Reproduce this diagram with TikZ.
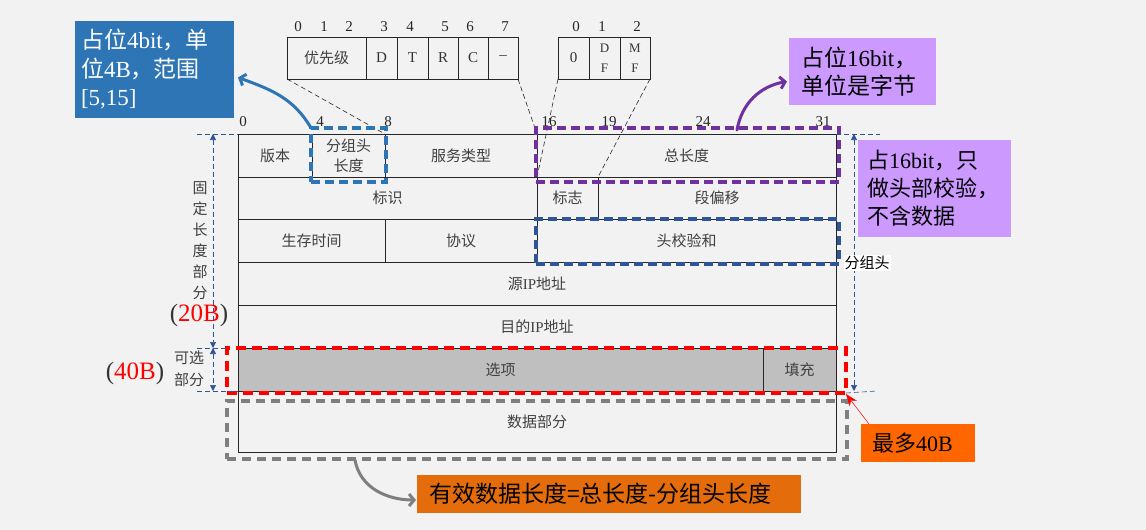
\documentclass[tikz,border=0pt]{standalone}
\usepackage{fontspec}
\setmainfont{Liberation Serif}
\newfontfamily\cjk{Noto Sans CJK SC}
\usetikzlibrary{positioning,arrows.meta,calc}
\definecolor{colFondo}{HTML}{F2F2F2}
\definecolor{colAzulCab}{HTML}{2E75B6}
\definecolor{colAzulOsc}{HTML}{2F5597}
\definecolor{colMorado}{HTML}{7030A0}
\definecolor{colLila}{HTML}{CC99FF}
\definecolor{colNaranja}{HTML}{FF6600}
\definecolor{colNaranjaOsc}{HTML}{E46C0A}
\definecolor{colGrisTxt}{HTML}{404040}
\definecolor{colGrisCelda}{HTML}{BFBFBF}
\definecolor{colGrisMarco}{HTML}{7F7F7F}
\newcommand{\lat}[1]{{\rmfamily #1}}

\begin{document}
\begin{tikzpicture}[
        x=1pt,
        y=1pt,
        >=Stealth,
        celda/.style={draw=black!85, line width=0.9pt, anchor=north west, inner sep=0pt, outer sep=0pt,
            align=center, text=colGrisTxt, font=\cjk\fontsize{15}{20}\selectfont},
        bitnum/.style={inner sep=0pt, text=black!85, font=\fontsize{15}{15}\selectfont},
        bandera/.style={draw=black!85, line width=0.9pt, anchor=north west, inner sep=0pt, outer sep=0pt,
            minimum height=42, align=center, text=black!80, font=\fontsize{15}{20}\selectfont},
        marco/.style={anchor=north west, inner sep=0pt, outer sep=0pt, line width=3.2pt,
            dash pattern=on 9pt off 5pt},
        nota/.style={anchor=north west, inner ysep=0pt, outer sep=0pt, align=left,
            font=\cjk\fontsize{23}{28.5}\selectfont},
        guia/.style={colAzulOsc, line width=0.6pt, dash pattern=on 5pt off 3pt},
        cota/.style={guia, {Triangle[length=6pt,width=6pt]}-{Triangle[length=6pt,width=6pt]}},
        lado/.style={inner sep=0pt, align=center, text=colGrisTxt, font=\cjk\fontsize{15}{21}\selectfont},
        tam/.style={inner sep=0pt, text=black!80, font=\fontsize{25}{25}\selectfont},
        proyeccion/.style={black!85, line width=0.6pt, dash pattern=on 5pt off 3pt},
        flecha/.style={line width=3pt, line cap=round, -{Straight Barb[length=5pt,width=12pt]}}
    ]
        \path[use as bounding box, fill=colFondo] (0,0) rectangle (1146,-530);

        % Desglose de los campos de servicio y de banderas
        \foreach \b/\x in {0/298,1/324,2/349,3/384,4/410,5/445,6/470,7/505}
            \node[bitnum] (tos\b) at (\x,-27) {\b};
        \foreach \b/\x in {0/576,1/602,2/637}
            \node[bitnum] (flg\b) at (\x,-27) {\b};
        \node[bandera, minimum width=79, text=colGrisTxt, font=\cjk\fontsize{15}{17}\selectfont] (prio) at (287,-37) {优先级};
        \node[bandera, minimum width=31] (tosD) at (366,-37) {D};
        \node[bandera, minimum width=31] (tosT) at (397,-37) {T};
        \node[bandera, minimum width=30] (tosR) at (428,-37) {R};
        \node[bandera, minimum width=30] (tosC) at (458,-37) {C};
        \node[bandera, minimum width=30] (tosX) at (488,-37) {\textendash};
        \node[bandera, minimum width=31] (flag0) at (558,-37) {0};
        \node[bandera, minimum width=31, font=\fontsize{13}{20}\selectfont] (flagDF) at (589,-37) {D\\F};
        \node[bandera, minimum width=30, font=\fontsize{13}{20}\selectfont] (flagMF) at (620,-37) {M\\F};

        % Cabecera: bits y celdas
        \foreach \b/\x in {0/243,4/320,8/388,16/549,19/609,24/703,31/823}
            \node[bitnum] (bit\b) at (\x,-122) {\b};
        \node[celda, minimum width=74, minimum height=43] (version) at (238,-134) {版本};
        \node[celda, minimum width=73, minimum height=43] (longCab) at (312,-134) {分组头\\长度};
        \node[celda, minimum width=152, minimum height=43] (servicio) at (385,-134) {服务类型};
        \node[celda, minimum width=299, minimum height=43] (longTotal) at (537,-134) {总长度};
        \node[celda, minimum width=299, minimum height=42] (ident) at (238,-177) {标识};
        \node[celda, minimum width=61, minimum height=42] (banderas) at (537,-177) {标志};
        \node[celda, minimum width=238, minimum height=42] (desplaz) at (598,-177) {段偏移};
        \node[celda, minimum width=147, minimum height=43] (ttl) at (238,-219) {生存时间};
        \node[celda, minimum width=152, minimum height=43] (protocolo) at (385,-219) {协议};
        \node[celda, minimum width=299, minimum height=43] (checksum) at (537,-219) {头校验和};
        \node[celda, minimum width=598, minimum height=43] (ipOrigen) at (238,-262) {源\lat{IP}地址};
        \node[celda, minimum width=598, minimum height=43] (ipDestino) at (238,-305) {目的\lat{IP}地址};
        \node[celda, fill=colGrisCelda, minimum width=525, minimum height=43] (opciones) at (238,-348) {选项};
        \node[celda, fill=colGrisCelda, minimum width=73, minimum height=43] (relleno) at (763,-348) {填充};
        \node[celda, minimum width=598, minimum height=61] (datos) at (238,-391) {数据部分};

        \draw[proyeccion] (prio.south west) -- (servicio.north west);
        \draw[proyeccion] (tosX.south east) -- (longTotal.north west);
        \draw[proyeccion] (flag0.south west) -- (banderas.north west);
        \draw[proyeccion] (flagMF.south east) -- (desplaz.north west);

        % Marcos resaltados
        \node[marco, draw=colAzulCab, minimum width=75, minimum height=54] (mLongCab) at (311,-128) {};
        \node[marco, draw=colMorado, minimum width=303, minimum height=54] (mTotal) at (536,-128) {};
        \node[marco, draw=colAzulOsc, minimum width=303, minimum height=45] (mCheck) at (536,-219) {};
        \node[marco, draw=red, dash pattern=on 10pt off 6pt, minimum width=619, minimum height=45] (mOpc) at (227,-348) {};
        \node[marco, draw=colGrisMarco, dash pattern=on 9pt off 6pt,
            minimum width=620, minimum height=58] (mDatos) at (227,-401) {};

        % Cotas
        \coordinate (guiaSup) at (197,-134);
        \coordinate (guiaMed) at (197,-348);
        \coordinate (guiaInf) at (197,-391);
        \coordinate (cotaSup) at (213,-134);
        \coordinate (cotaMed) at (213,-348);
        \coordinate (cotaInf) at (213,-391);
        \coordinate (guiaDerSup) at (880,-134);
        \coordinate (guiaDerInf) at (877,-391);
        \coordinate (cotaDerSup) at (854,-134);
        \coordinate (cotaDerInf) at (854,-391);
        \draw[guia] (guiaSup) -- (version.north west);
        \draw[guia] (guiaMed) -- (mOpc.north west);
        \draw[guia] (guiaInf) -- (datos.north west);
        \draw[cota] (cotaSup) -- (cotaMed);
        \draw[cota] (cotaMed) -- (cotaInf);
        \draw[guia] (longTotal.north east) -- (guiaDerSup);
        \draw[guia] (mOpc.south east) -- (guiaDerInf);
        \draw[cota] (cotaDerSup) -- (cotaDerInf);

        \node[fill=white, inner sep=1pt, font=\cjk\fontsize{15}{15}\selectfont] (lblCab) at (867,-263) {分组头};
        \node[lado] (lblFijo) at (200,-240.5) {固\\定\\长\\度\\部\\分};
        \node[lado, font=\cjk\fontsize{15}{22}\selectfont] (lblOpc) at (189,-369) {可选\\部分};
        \node[tam] (tam20) at (199,-315) {(\textcolor{red}{20B})};
        \node[tam] (tam40) at (135,-373) {(\textcolor{red}{40B})};

        % Notas
        \node[nota, fill=colAzulCab, text=white, minimum width=159, minimum height=97, text width=147,
            inner xsep=6pt] (nota4bit) at (75,-21) {占位\lat{4bit}，单\\位\lat{4B}，范围\\\lat{[5,15]}};
        \node[nota, fill=colLila, minimum width=147, minimum height=67, text width=123,
            inner xsep=12pt] (notaTotal) at (789,-38) {占位\lat{16bit}，\\单位是字节};
        \node[nota, fill=colLila, minimum width=153, minimum height=97, text width=135, inner xsep=9pt,
            font=\cjk\fontsize{22}{28}\selectfont] (notaCheck) at (858,-140) {占\lat{16bit}，只\\做头部校验，\\不含数据};
        \node[nota, fill=colNaranja, minimum width=114, minimum height=38, text width=92, inner xsep=11pt,
            font=\cjk\fontsize{22}{26}\selectfont] (notaMax) at (861,-424) {最多\lat{40B}};
        \node[nota, fill=colNaranjaOsc, minimum width=384, minimum height=38, text width=360,
            inner xsep=12pt] (notaDatos) at (417,-475) {有效数据长度=总长度-分组头长度};

        \coordinate (salTotal) at (737,-130);
        \coordinate (salDatos) at (355,-460);
        \coordinate (punta40) at (846,-394);
        \draw[flecha, colAzulCab] (mLongCab.north west) to[out=120,in=-20] ([xshift=4pt,yshift=-8pt]nota4bit.east);
        \draw[flecha, colMorado] (salTotal) to[out=80,in=190] ([xshift=-2pt,yshift=-10pt]notaTotal.west);
        \draw[flecha, colGrisMarco] (salDatos) to[out=-80,in=180] ([xshift=-1pt,yshift=-6pt]notaDatos.west);
        \draw[red, line width=0.5pt, -{Stealth[length=12pt,width=9pt]}] ([xshift=8pt]notaMax.north west) -- (punta40);
    \end{tikzpicture}
\end{document}
